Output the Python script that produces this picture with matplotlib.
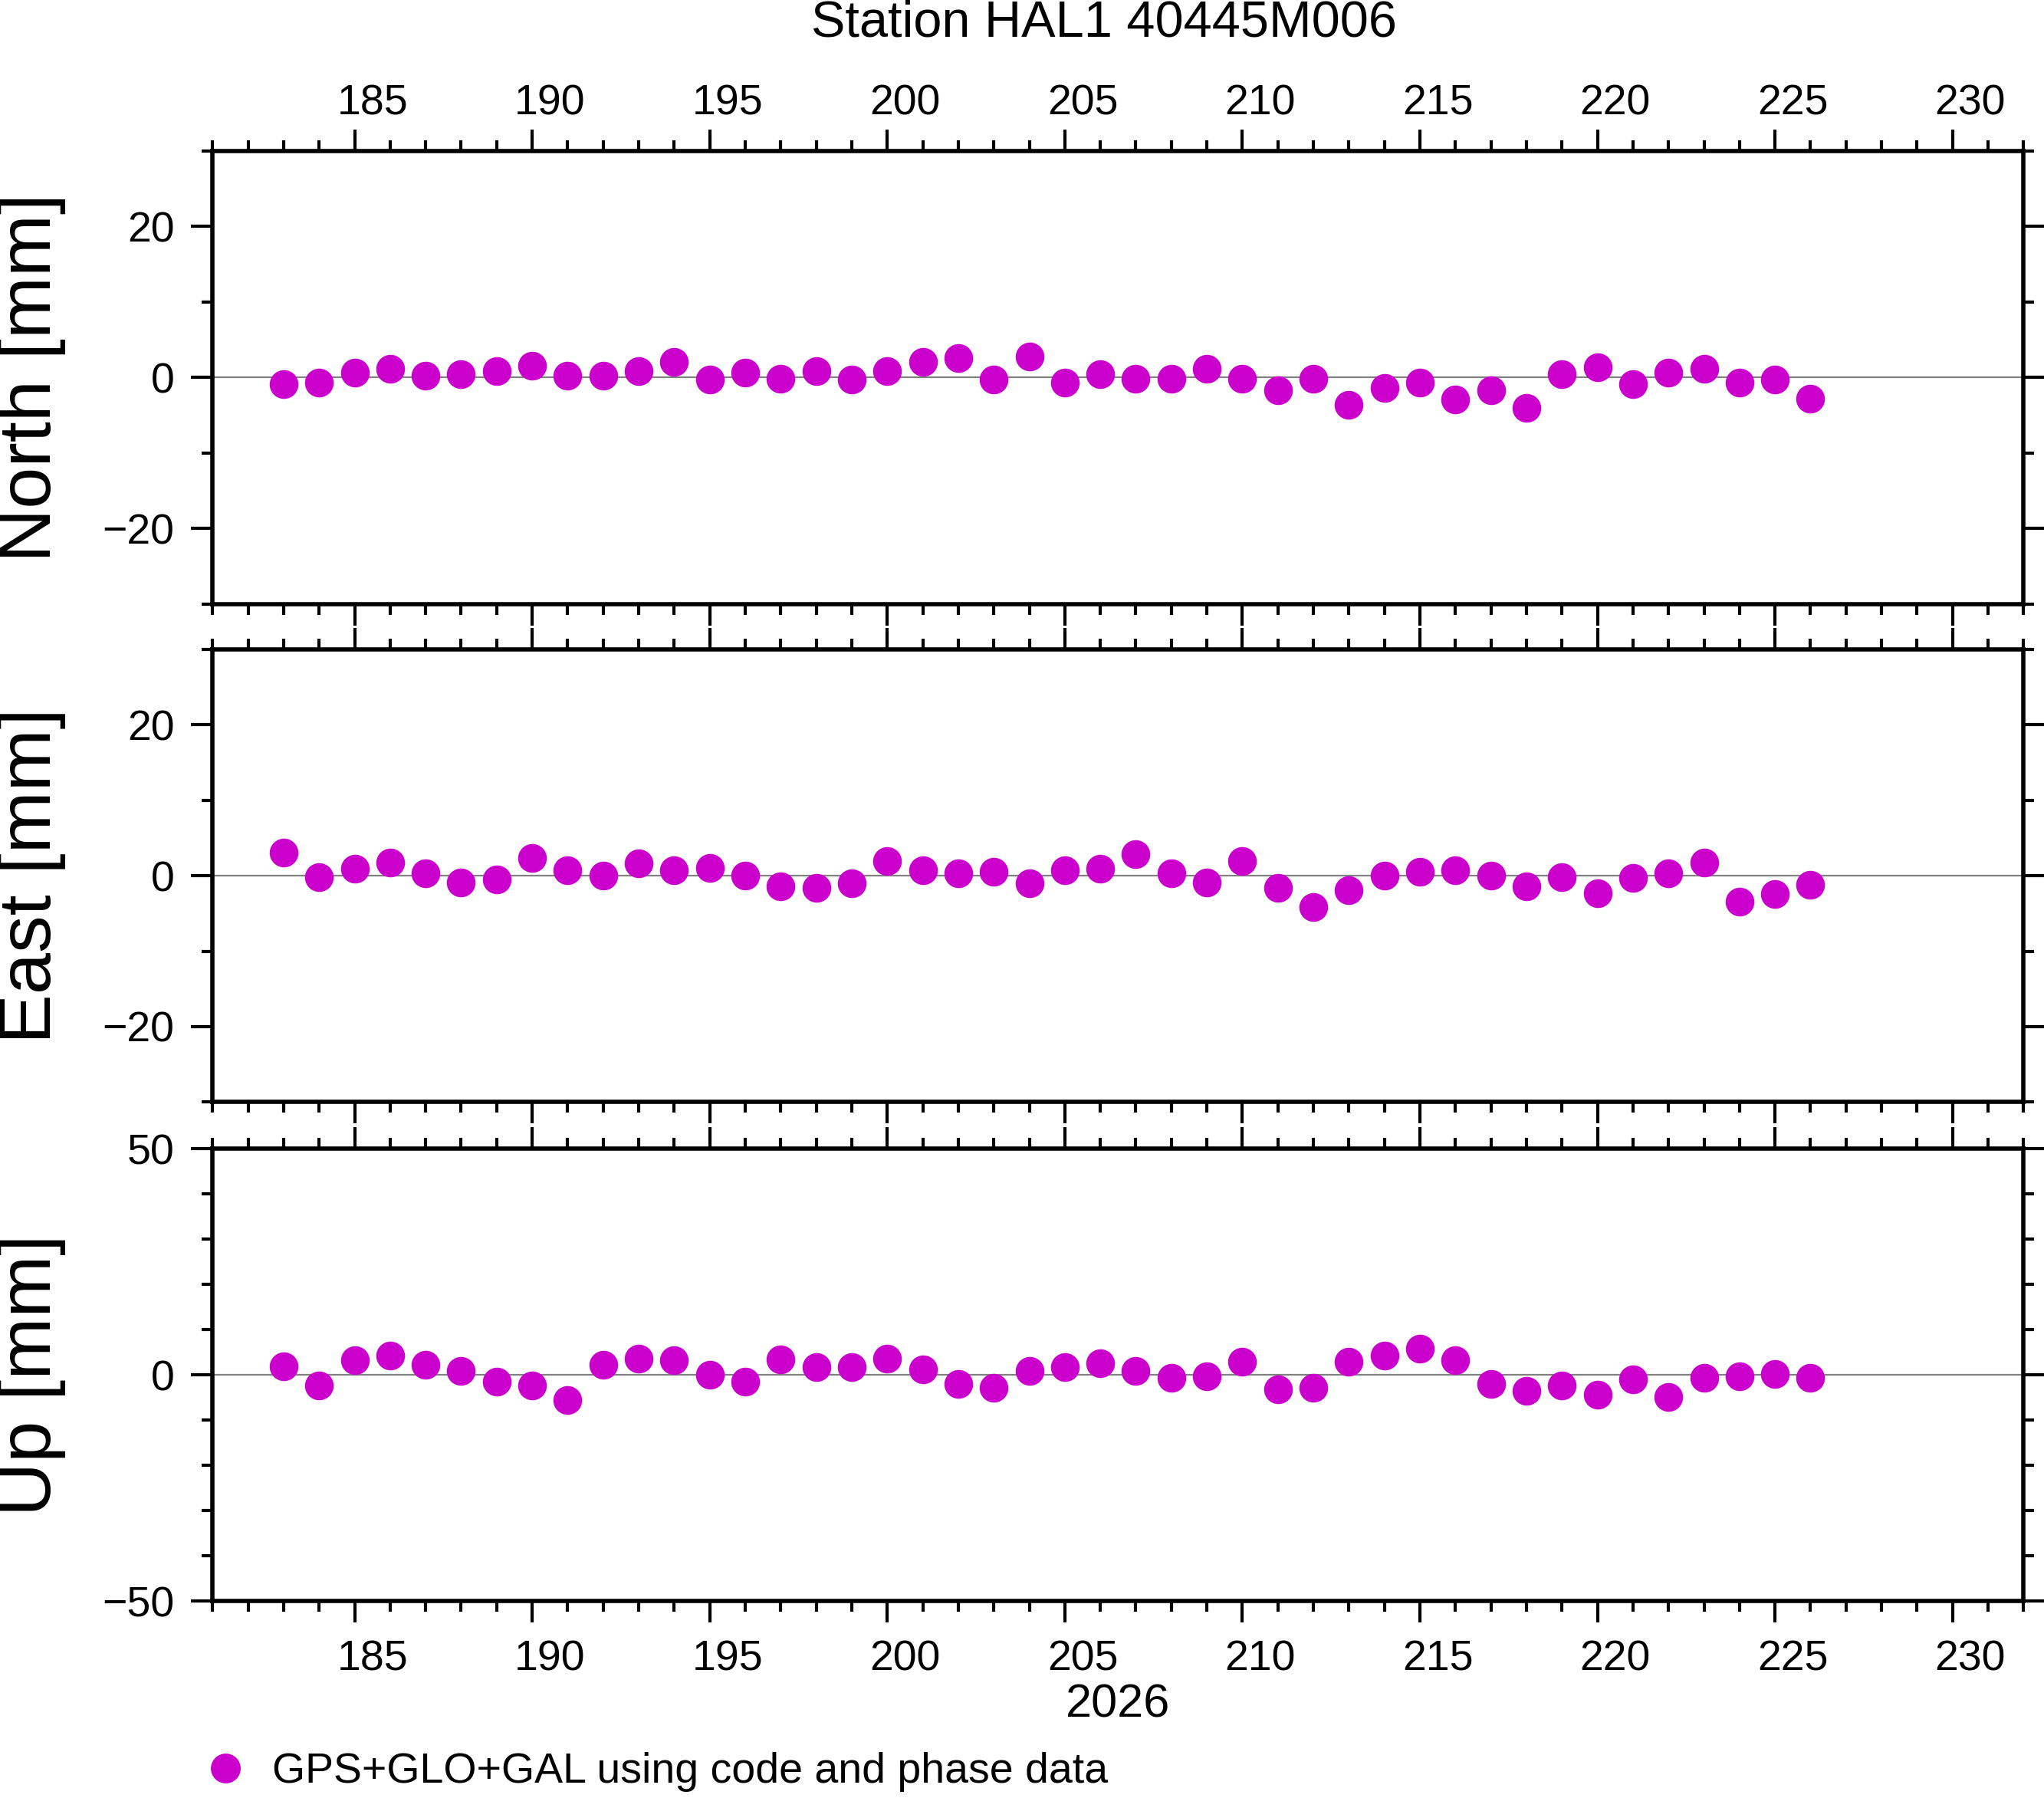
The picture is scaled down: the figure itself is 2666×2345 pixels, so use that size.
import matplotlib
matplotlib.use("Agg")
import matplotlib.pyplot as plt
import matplotlib.transforms as mtransforms
from matplotlib.ticker import MultipleLocator
from matplotlib.lines import Line2D

plt.rcParams['font.family'] = ['Liberation Sans', 'DejaVu Sans']

days = list(range(183, 227))
north = [-0.9,-0.7,0.7,1.2,0.2,0.5,0.9,1.6,0.2,0.2,0.9,2.1,-0.3,0.7,-0.2,0.9,-0.3,0.9,2.1,2.6,
         -0.3,2.8,-0.7,0.5,-0.2,-0.2,1.2,-0.2,-1.7,-0.2,-3.6,-1.4,-0.7,-2.9,-1.7,-4.0,0.5,1.4,-0.9,0.7,
         1.2,-0.7,-0.3,-2.8]
east = [3.0,-0.2,0.9,1.7,0.3,-0.9,-0.5,2.3,0.7,0.0,1.6,0.7,1.0,0.0,-1.4,-1.6,-1.0,1.9,0.7,0.3,
        0.5,-1.0,0.7,0.9,2.8,0.3,-0.9,1.9,-1.6,-4.2,-1.9,0.0,0.5,0.7,0.0,-1.4,-0.2,-2.3,-0.3,0.3,
        1.7,-3.5,-2.4,-1.2]
up = [2.0,-2.3,3.2,4.3,2.3,0.9,-1.4,-2.3,-5.5,2.3,3.7,3.2,0.0,-1.4,3.5,1.7,1.7,3.7,1.2,-2.0,
      -2.9,0.9,1.7,2.6,0.9,-0.6,-0.3,2.9,-3.2,-2.9,2.9,4.3,5.8,3.2,-2.0,-3.5,-2.3,-4.3,-0.9,-4.9,
      -0.6,-0.3,0.3,-0.6]

color = '#cc00cc'
fig = plt.figure(figsize=(13.33, 11.725), dpi=200)
L, W = 0.104, 0.886
specs = [(0.664, 0.252, north, 'North [mm]', 30, 20),
         (0.387, 0.252, east, 'East [mm]', 30, 20),
         (0.1095, 0.2515, up, 'Up [mm]', 50, 50)]
offset1 = mtransforms.ScaledTranslation(0.116, 0, fig.dpi_scale_trans)
offset2 = mtransforms.ScaledTranslation(0.116, -0.075, fig.dpi_scale_trans)
axes = []
for i, (b, h, vals, lab, lim, maj) in enumerate(specs):
    ax = fig.add_axes([L, b, W, h])
    ax.axhline(0, color='#808080', lw=0.8, zorder=1)
    ax.plot(days, vals, 'o', color=color, ms=12.5, zorder=3)
    ax.set_xlim(181, 232)
    ax.set_ylim(-lim, lim)
    ax.xaxis.set_major_locator(MultipleLocator(5))
    ax.xaxis.set_minor_locator(MultipleLocator(1))
    ax.yaxis.set_major_locator(MultipleLocator(maj))
    ax.yaxis.set_minor_locator(MultipleLocator(10))
    ax.tick_params(which='both', direction='out', top=True, right=True, labelsize=20,
                   width=1.5, labeltop=(i == 0), labelbottom=(i == 2))
    ax.tick_params(which='major', length=10, pad=8)
    ax.tick_params(which='minor', length=5)
    for t in ax.xaxis.get_major_ticks():
        t.label1.set_transform(t.label1.get_transform() + offset1)
        t.label2.set_transform(t.label2.get_transform() + offset2)
    for s in ax.spines.values():
        s.set_linewidth(2)
    ax.set_ylabel(lab, fontsize=35)
    ax.yaxis.set_label_coords(-0.081, 0.5)
    axes.append(ax)

fig.text(0.54, 0.987, 'Station HAL1 40445M006', fontsize=24, ha='center', va='center')
axes[2].set_xlabel('2026', fontsize=22, labelpad=2)
h = Line2D([], [], marker='o', ls='', color=color, ms=13)
fig.legend([h], ['GPS+GLO+GAL using code and phase data'], loc='lower left',
           bbox_to_anchor=(0.081, -0.018), frameon=False, fontsize=20, handletextpad=0.6,
           handlelength=1.0)
fig.savefig('out.png', dpi=200)
